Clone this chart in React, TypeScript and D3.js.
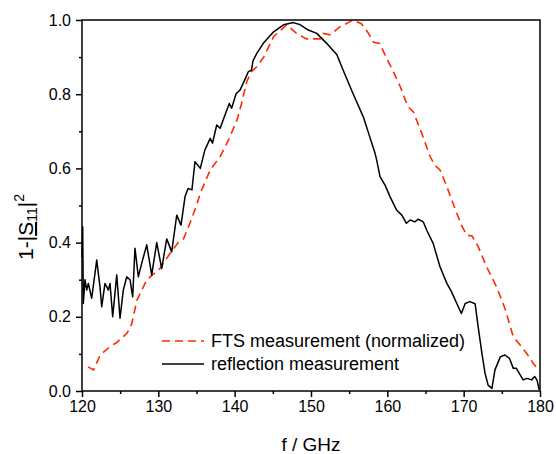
import React, { useEffect, useRef } from 'react';
import * as d3 from 'd3';

const ftsFreq = [120.8, 121.5, 122.4, 123.7, 124.5, 125.9, 126.5, 127.2, 128.5, 130.2, 131.5, 132.6, 133.3, 134.1, 135.0, 135.5, 136.8, 138.1, 139.2, 140.3, 140.9, 141.6, 142.2, 142.9, 143.8, 145.1, 146.8, 148.1, 149.4, 151.2, 151.6, 152.5, 153.8, 154.7, 155.5, 156.6, 157.5, 158.2, 159.0, 159.7, 160.8, 161.7, 162.7, 163.4, 164.5, 165.6, 166.2, 166.9, 167.8, 168.6, 169.7, 170.4, 171.1, 171.9, 173.0, 174.3, 175.4, 176.5, 177.4, 178.3, 179.1, 179.8];
const ftsValue = [0.065, 0.057, 0.097, 0.12, 0.13, 0.156, 0.18, 0.245, 0.30, 0.33, 0.37, 0.40, 0.41, 0.45, 0.50, 0.533, 0.596, 0.632, 0.677, 0.73, 0.775, 0.835, 0.861, 0.874, 0.90, 0.955, 0.987, 0.964, 0.949, 0.949, 0.964, 0.96, 0.982, 0.991, 1.0, 0.99, 0.965, 0.94, 0.937, 0.906, 0.86, 0.82, 0.766, 0.753, 0.695, 0.632, 0.609, 0.596, 0.551, 0.506, 0.447, 0.42, 0.418, 0.389, 0.335, 0.281, 0.223, 0.146, 0.124, 0.10, 0.075, 0.057];

// reflection measurement
const reflFreq = [120.0, 120.09, 120.17, 120.39, 120.62, 120.83, 121.27, 121.93, 122.36, 122.58, 123.01, 123.45, 123.67, 124.02, 124.55, 124.98, 125.41, 125.86, 126.29, 126.64, 126.94, 127.38, 127.82, 128.48, 129.13, 129.79, 130.44, 131.1, 131.75, 132.41, 132.97, 133.5, 133.9, 134.4, 134.8, 135.5, 136.1, 136.8, 137.1, 137.65, 138.1, 138.65, 139.3, 139.6, 140.2, 140.7, 141.35, 141.8, 142.2, 142.4, 142.9, 143.75, 145.1, 146.4, 147.7, 148.6, 149.65, 150.75, 152.05, 153.4, 154.2, 155.5, 156.85, 157.7, 158.4, 158.6, 159.04, 159.7, 160.35, 161.2, 161.9, 162.5, 163.0, 163.6, 164.06, 164.7, 165.15, 166.0, 166.9, 167.8, 168.4, 169.1, 169.7, 170.2, 170.8, 171.5, 171.9, 172.4, 172.8, 173.2, 173.7, 174.1, 174.8, 175.4, 176.0, 176.5, 176.9, 177.8, 178.3, 178.9, 179.3, 179.6, 179.9];
const reflValue = [0.36, 0.443, 0.236, 0.30, 0.272, 0.29, 0.25, 0.353, 0.28, 0.227, 0.29, 0.272, 0.29, 0.20, 0.313, 0.196, 0.272, 0.308, 0.30, 0.254, 0.385, 0.308, 0.344, 0.394, 0.313, 0.40, 0.33, 0.41, 0.375, 0.474, 0.447, 0.524, 0.546, 0.542, 0.618, 0.60, 0.65, 0.681, 0.668, 0.717, 0.708, 0.739, 0.775, 0.762, 0.802, 0.811, 0.84, 0.861, 0.865, 0.89, 0.91, 0.937, 0.968, 0.987, 0.993, 0.987, 0.973, 0.964, 0.937, 0.906, 0.865, 0.802, 0.739, 0.685, 0.64, 0.623, 0.578, 0.555, 0.524, 0.488, 0.474, 0.452, 0.461, 0.456, 0.463, 0.456, 0.434, 0.398, 0.335, 0.29, 0.268, 0.236, 0.209, 0.236, 0.241, 0.235, 0.173, 0.10, 0.048, 0.016, 0.007, 0.057, 0.092, 0.097, 0.088, 0.061, 0.061, 0.03, 0.034, 0.03, 0.039, 0.03, 0.003];

const xTicks = [120, 130, 140, 150, 160, 170, 180];
const xMinor = [125, 135, 145, 155, 165, 175];
const yTicks = [0, 0.2, 0.4, 0.6, 0.8, 1.0];
const yMinor = [0.1, 0.3, 0.5, 0.7, 0.9];
const legendNames = ['FTS measurement (normalized)', 'reflection measurement'];

const red = '#ff2a00';
const font = 'Arial, "Liberation Sans", sans-serif';

export default function App() {
  const ref = useRef<SVGSVGElement>(null);

  useEffect(() => {
    const svg = d3.select(ref.current);
    svg.selectAll('*').remove();

    const left = 82, right = 540, top = 20, bottom = 391;
    const x = d3.scaleLinear().domain([120, 180]).range([left, right]);
    const y = d3.scaleLinear().domain([0, 1]).range([bottom, top]);

    // curves
    const line = d3.line<[number, number]>().x(d => x(d[0])).y(d => y(d[1]));
    const fts = ftsFreq.map((f, i) => [f, ftsValue[i]] as [number, number]);
    const refl = reflFreq.map((f, i) => [f, reflValue[i]] as [number, number]);

    svg.append('path')
      .attr('d', line(fts))
      .attr('fill', 'none')
      .attr('stroke', red)
      .attr('stroke-width', 1.6)
      .attr('stroke-dasharray', '8,5');
    svg.append('path')
      .attr('d', line(refl))
      .attr('fill', 'none')
      .attr('stroke', '#000')
      .attr('stroke-width', 1.5)
      .attr('stroke-linejoin', 'round');

    // frame
    svg.append('rect')
      .attr('x', left).attr('y', top)
      .attr('width', right - left).attr('height', bottom - top)
      .attr('fill', 'none').attr('stroke', '#000').attr('stroke-width', 1.5);

    // x axis
    const xAxis = d3.axisBottom(x).tickValues(xTicks).tickSize(6).tickPadding(4).tickFormat(d3.format('d'));
    const gx = svg.append('g').attr('transform', `translate(0 ${bottom})`).call(xAxis);
    gx.select('.domain').remove();
    gx.selectAll('line').attr('stroke-width', 1.5);
    gx.selectAll('text').attr('font-size', 16).attr('font-family', font).attr('fill', '#000');
    const gxm = svg.append('g').attr('transform', `translate(0 ${bottom})`)
      .call(d3.axisBottom(x).tickValues(xMinor).tickSize(3).tickFormat(() => ''));
    gxm.select('.domain').remove();
    gxm.selectAll('line').attr('stroke-width', 1.5);

    // y axis
    const yAxis = d3.axisLeft(y).tickValues(yTicks).tickSize(6).tickPadding(5).tickFormat(d3.format('.1f'));
    const gy = svg.append('g').attr('transform', `translate(${left} 0)`).call(yAxis);
    gy.select('.domain').remove();
    gy.selectAll('line').attr('stroke-width', 1.5);
    gy.selectAll('text').attr('font-size', 16).attr('font-family', font).attr('fill', '#000');
    const gym = svg.append('g').attr('transform', `translate(${left} 0)`)
      .call(d3.axisLeft(y).tickValues(yMinor).tickSize(3).tickFormat(() => ''));
    gym.select('.domain').remove();
    gym.selectAll('line').attr('stroke-width', 1.5);

    // axis titles
    svg.append('text')
      .attr('x', (left + right) / 2).attr('y', 451)
      .attr('text-anchor', 'middle')
      .attr('font-size', 19).attr('font-family', font)
      .text('f / GHz');

    const yl = svg.append('text')
      .attr('transform', 'translate(33 227) rotate(-90)')
      .attr('text-anchor', 'middle')
      .attr('font-size', 21).attr('font-family', font);
    yl.append('tspan').text('1-|');
    yl.append('tspan').attr('text-decoration', 'underline').text('S');
    yl.append('tspan').attr('font-size', 14).attr('dy', 4).text('11');
    yl.append('tspan').attr('dy', -4).text('|');
    yl.append('tspan').attr('font-size', 14).attr('dy', -9).text('2');

    // legend
    const lg = svg.append('g');
    legendNames.forEach((name, i) => {
      const ly = 341 + i * 23;
      lg.append('line')
        .attr('x1', 162).attr('x2', 204).attr('y1', ly).attr('y2', ly)
        .attr('stroke', i === 0 ? red : '#000')
        .attr('stroke-width', 1.6)
        .attr('stroke-dasharray', i === 0 ? '8,5' : null);
      lg.append('text')
        .attr('x', 211).attr('y', ly + 6)
        .attr('font-size', 18).attr('font-family', font)
        .text(name);
    });
  }, []);

  return (
    <svg ref={ref} width={556} height={454}
      style={{ position: 'absolute', left: 0, top: 0, background: '#fff' }} />
  );
}
